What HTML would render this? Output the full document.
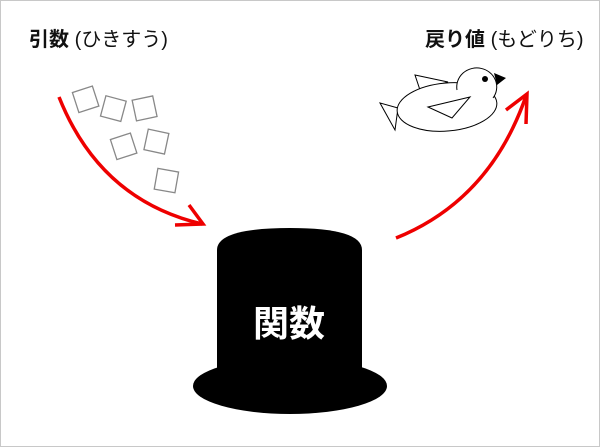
<!DOCTYPE html>
<html><head><meta charset="utf-8"><style>
html,body{margin:0;padding:0;background:#fff}
.w{position:relative;width:598px;height:445px;border:1px solid #c8c8c8;overflow:hidden}
.t{position:absolute;font-family:"Liberation Sans","Noto Sans CJK JP",sans-serif;font-size:20px;font-weight:bold;color:#111;white-space:nowrap}
.t span{font-weight:normal}
</style></head><body><div class="w">
<div class="t" style="left:28px;top:22px">引数 <span>(ひきすう)</span></div>
<div class="t" style="left:424px;top:22px">戻り値 <span>(もどりち)</span></div>
<svg width="600" height="447" style="position:absolute;left:-1px;top:-1px">
<g fill="none" stroke="#888" stroke-width="1.3">
<rect x="-10" y="-10" width="21" height="21" transform="translate(85,99) rotate(-18)"/>
<rect x="-10" y="-10" width="21" height="21" transform="translate(113,108) rotate(15)"/>
<rect x="-10" y="-10" width="21" height="21" transform="translate(144,108) rotate(-12)"/>
<rect x="-10" y="-10" width="21" height="21" transform="translate(123,146) rotate(-18)"/>
<rect x="-10" y="-10" width="21" height="21" transform="translate(156,141) rotate(12)"/>
<rect x="-10" y="-10" width="21" height="21" transform="translate(166,180) rotate(10)"/>
</g>
<g fill="none" stroke="#e00" stroke-width="3.5">
<path d="M59,97 Q100,200 202,224"/>
<path d="M189,205 L203,224 L175,225"/>
<path d="M396,238 Q490,200 526,96"/>
<path d="M506,110 L527,94 L526,124"/>
</g>
<path d="M217,250 Q217,228 290,228 Q362,228 362,250 L362,370 L217,370 Z" fill="#000"/>
<ellipse cx="290" cy="386" rx="97" ry="28" fill="#000"/>
<text x="289" y="336" text-anchor="middle" font-family="Liberation Sans,Noto Sans CJK JP,sans-serif" font-size="36" font-weight="bold" fill="#fff">関数</text>
<g fill="#fff" stroke="#000" stroke-width="1">
<polygon points="415,75 448,82 420,90"/>
<polygon points="380,103 398,108 395,130"/>
<ellipse cx="447" cy="107" rx="50" ry="24" transform="rotate(-5 447 107)"/>
<path d="M457,90 A20,19 0 1 1 493,98"/>
<polygon points="428,107 470,97 452,118"/>
</g>
<circle cx="485" cy="79" r="3" fill="#000"/>
<polygon points="494,73 506,78 497,85" fill="#000"/>
</svg>
</div></body></html>
